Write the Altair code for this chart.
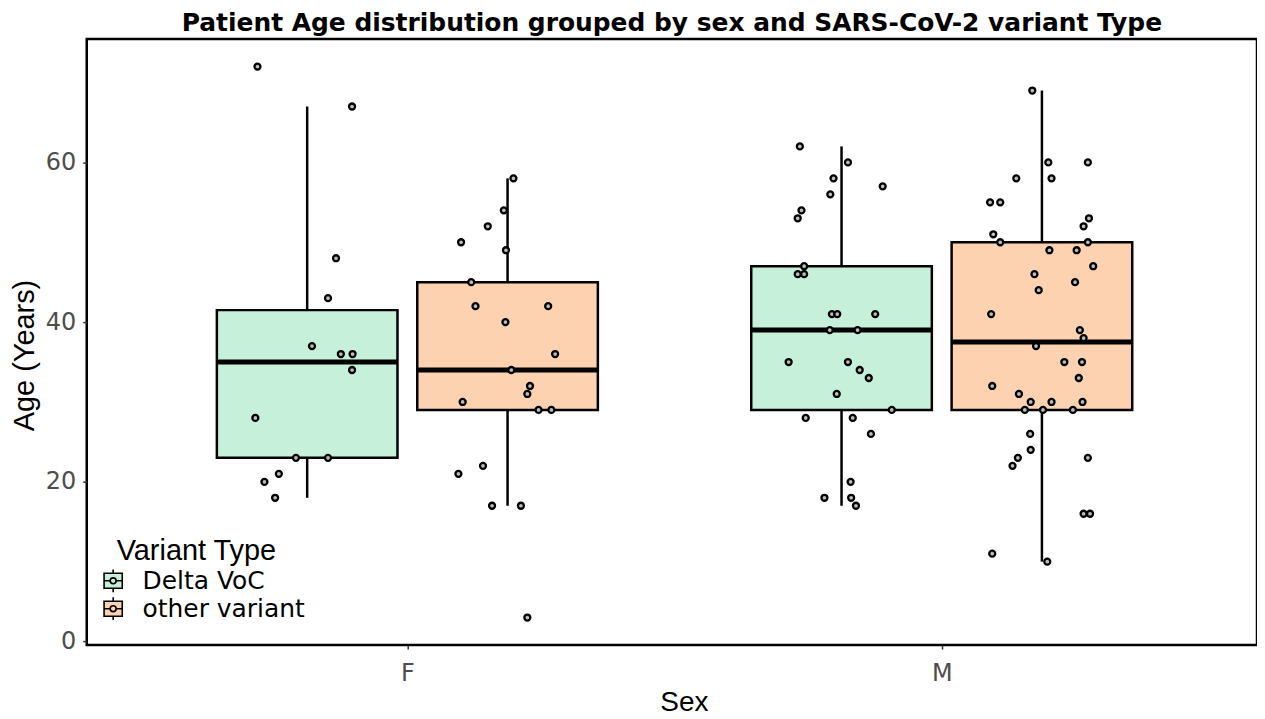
import altair as alt
import pandas as pd

# ---- data ----
variants = ["Delta VoC", "other variant"]
sexes = ["F", "M"]

f_delta_age = [72, 67, 48, 43, 37, 36, 36, 34, 28, 23, 23, 21, 20, 18]
f_delta_jit = [-0.093, 0.084, 0.054, 0.039, 0.009, 0.063, 0.085, 0.084, -0.097,
               -0.021, 0.039, -0.053, -0.080, -0.060]

f_other_age = [58, 54, 52, 50, 49, 45, 42, 42, 40, 36, 34, 32, 31, 30, 29, 29,
               22, 21, 17, 17, 3]
f_other_jit = [0.011, -0.007, -0.037, -0.087, -0.003, -0.068, -0.060, 0.076,
               -0.004, 0.089, 0.007, 0.042, 0.037, -0.084, 0.058, 0.082,
               -0.046, -0.092, -0.029, 0.025, 0.037]

m_delta_age = [62, 60, 58, 57, 56, 54, 53, 47, 46, 46, 41, 41, 41, 39, 39, 35,
               35, 34, 33, 31, 29, 28, 28, 26, 20, 18, 18, 17]
m_delta_jit = [-0.078, 0.012, -0.015, 0.077, -0.021, -0.075, -0.082, -0.070,
               -0.082, -0.070, -0.018, -0.008, 0.063, -0.022, 0.030, -0.099,
               0.012, 0.034, 0.051, -0.009, 0.094, -0.067, 0.021, 0.055,
               0.017, -0.032, 0.018, 0.027]

m_other_age = [69, 60, 60, 58, 58, 55, 55, 53, 52, 51, 50, 50, 49, 49, 47, 46,
               45, 44, 41, 39, 38, 37, 35, 35, 33, 32, 31, 30, 30, 30, 29, 29,
               29, 26, 24, 23, 23, 22, 16, 16, 11, 10]
m_other_jit = [-0.018, 0.012, 0.086, -0.048, 0.018, -0.097, -0.078, 0.088,
               0.078, -0.091, -0.078, 0.086, 0.014, 0.065, 0.096, -0.014,
               0.062, -0.006, -0.095, 0.071, 0.078, -0.011, 0.042, 0.075,
               0.069, -0.093, -0.043, -0.021, 0.018, 0.076, -0.032, 0.002,
               0.058, -0.022, -0.021, -0.045, 0.086, -0.055, 0.078, 0.090,
               -0.093, 0.010]

# box statistics (Tukey, whiskers at 1.5 IQR)
box_sex = ["F", "F", "M", "M"]
box_variant = ["Delta VoC", "other variant", "Delta VoC", "other variant"]
box_q1 = [23, 29, 29, 29]
box_median = [35, 34, 39, 37.5]
box_q3 = [41.5, 45, 47, 50]
box_lo = [18, 17, 17, 10]
box_hi = [67, 58, 62, 69]

# ---- style constants ----
DODGE = 0.1875
HALF = 0.169
colors = ["#C6F0DA", "#FCD2B0"]
FONT = "Liberation Sans"
WIDE = "DejaVu Sans"

groups = [("F", "Delta VoC", f_delta_age, f_delta_jit),
          ("F", "other variant", f_other_age, f_other_jit),
          ("M", "Delta VoC", m_delta_age, m_delta_jit),
          ("M", "other variant", m_other_age, m_other_jit)]
rows = []
for s, v, ages, jits in groups:
    for a, j in zip(ages, jits):
        rows.append({"Sex": s, "Variant": v, "Age": a, "jit": j})
pts = pd.DataFrame(rows)

box = pd.DataFrame({"Sex": box_sex, "Variant": box_variant, "q1": box_q1,
                    "median": box_median, "q3": box_q3, "lo": box_lo,
                    "hi": box_hi})

pos_expr = (f"indexof(['F','M'], datum.Sex) + 1 + "
            f"(datum.Variant == 'Delta VoC' ? {-DODGE} : {DODGE})")

xscale = alt.Scale(domain=[0.4, 2.59], nice=False, zero=False)
yscale = alt.Scale(domain=[-0.45, 75.45], nice=False, zero=False)
xaxis = alt.Axis(values=[1, 2], labelExpr="datum.value == 1 ? 'F' : 'M'",
                 title="Sex", grid=False, domain=False, tickSize=4,
                 tickWidth=1.5, tickColor="#333333", labelFontSize=24,
                 labelFont=WIDE,
                 labelColor="#4D4D4D", labelPadding=13, titleFontSize=28,
                 titleFontWeight="normal", titleColor="black", titleX=599,
                 titleY=44, titleBaseline="top")
yaxis = alt.Axis(values=[0, 20, 40, 60], title="Age (Years)", grid=False,
                 domain=False, tickSize=4, tickWidth=1.5, tickColor="#333333",
                 labelFontSize=24, labelFont=WIDE,
                 labelColor="#4D4D4D", labelPadding=7,
                 titleFontSize=29, titleFontWeight="normal", titleColor="black",
                 titleX=-62, titleY=317, titleBaseline="middle")

base_box = alt.Chart(box).transform_calculate(xc=pos_expr).transform_calculate(
    xl=f"datum.xc - {HALF}", xr=f"datum.xc + {HALF}")

whisk_lo = base_box.mark_rule(color="black", strokeWidth=2.5).encode(
    x=alt.X("xc:Q", scale=xscale, axis=xaxis),
    y=alt.Y("lo:Q", scale=yscale, axis=yaxis), y2="q1:Q")
whisk_hi = base_box.mark_rule(color="black", strokeWidth=2.5).encode(
    x=alt.X("xc:Q", scale=xscale, axis=xaxis),
    y=alt.Y("q3:Q", scale=yscale, axis=yaxis), y2="hi:Q")

legend_symbol = ("M-0.8,-0.66H0.8V0.66H-0.8Z M0,-1V-0.66 M0,0.66V1 "
                 "M-0.8,0H-0.26 M0.26,0H0.8 "
                 "M0.26,0A0.26,0.26 0 1,1 -0.26,0A0.26,0.26 0 1,1 0.26,0")

boxes = base_box.mark_bar(stroke="black", strokeWidth=2.5, opacity=1).encode(
    x=alt.X("xl:Q", scale=xscale, axis=xaxis), x2="xr:Q",
    y=alt.Y("q1:Q", scale=yscale, axis=yaxis), y2="q3:Q",
    color=alt.Color("Variant:N",
                    scale=alt.Scale(domain=variants, range=colors),
                    legend=alt.Legend(title="Variant Type", orient="none",
                                      legendX=30, legendY=500,
                                      symbolType=legend_symbol,
                                      symbolSize=520, symbolStrokeColor="black",
                                      symbolStrokeWidth=1.6,
                                      symbolOffset=-16, labelOffset=17,
                                      titleFontSize=29, titleFontWeight="normal",
                                      titleColor="black", titlePadding=2,
                                      titleFont=FONT,
                                      labelFontSize=25, labelFont=WIDE,
                                      labelColor="black", labelLimit=400,
                                      rowPadding=-7, padding=0)))

medians = base_box.mark_rule(color="black", strokeWidth=5).encode(
    x=alt.X("xl:Q", scale=xscale, axis=xaxis), x2="xr:Q",
    y=alt.Y("median:Q", scale=yscale, axis=yaxis))

points = alt.Chart(pts).transform_calculate(xc=pos_expr).transform_calculate(
    xp="datum.xc + datum.jit").mark_point(
    shape="circle", filled=True, size=36, fill="#BDBDBD", stroke="black",
    strokeWidth=2.3, opacity=1).encode(
    x=alt.X("xp:Q", scale=xscale, axis=xaxis),
    y=alt.Y("Age:Q", scale=yscale, axis=yaxis))

chart = alt.layer(whisk_lo, whisk_hi, boxes, medians, points).properties(
    width=1174, height=608,
    padding={"left": 79, "top": 30, "right": 0, "bottom": 70},
    autosize=alt.AutoSizeParams(type="none"),
    title=alt.TitleParams(
        "Patient Age distribution grouped by sex and SARS-CoV-2 variant Type",
        fontSize=25, fontWeight="bold", font=WIDE, color="black",
        anchor="middle", frame="group", offset=6, baseline="alphabetic",
        dy=23),
).configure_view(stroke="black", strokeWidth=2.5).configure_axis(
    titleFont=FONT)

chart.save("out.html", embed_options={"renderer": "svg", "actions": False})
